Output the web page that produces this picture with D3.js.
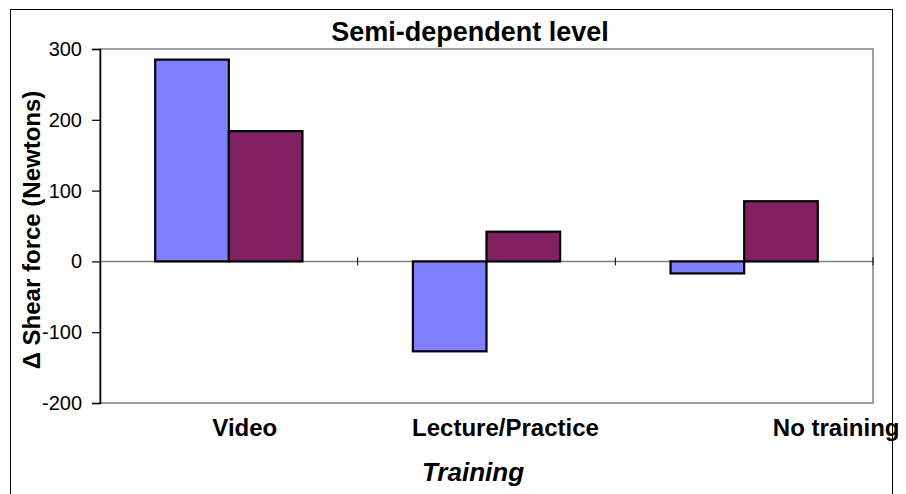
<!DOCTYPE html>
<html>
<head>
<meta charset="utf-8">
<script src="https://cdn.jsdelivr.net/npm/d3@7"></script>
<style>
  html, body { margin: 0; padding: 0; background: #fff; }
  svg { display: block; font-family: "Liberation Sans", Arial, sans-serif; }
</style>
</head>
<body>
<svg id="chart" width="906" height="494"></svg>
<script>
// Change in shear force by training type
const categories = ["Video", "Lecture/Practice", "No training"];
const series1 = [285, -127, -17];
const series2 = [184, 42, 85];
const yTicks = [-200, -100, 0, 100, 200, 300];
const chartTitle = "Semi-dependent level";
const xTitle = "Training";
const yTitle = "\u0394 Shear force (Newtons)";

const seriesNames = ["series1", "series2"];
const seriesValues = [series1, series2];
const seriesColors = ["#8080FF", "#802060"];

const svg = d3.select("#chart");
const plot = { left: 100, right: 873, top: 49, bottom: 403 };

const y = d3.scaleLinear().domain([-200, 300]).range([plot.bottom, plot.top]);
const x0 = d3.scaleBand().domain(categories).range([plot.left, plot.right]);

// bar width from a 150% gap between clusters
const barW = x0.bandwidth() / 3.5;
const gap = barW * 0.75;
const x1 = d3.scaleBand().domain(seriesNames).range([gap, gap + 2 * barW]);

const rows = categories.map((c, i) => ({
  cat: c,
  vals: seriesNames.map((s, j) => ({ s, v: seriesValues[j][i], color: seriesColors[j] }))
}));

// plot area frame
svg.append("rect")
  .attr("x", plot.left).attr("y", plot.top)
  .attr("width", plot.right - plot.left).attr("height", plot.bottom - plot.top)
  .attr("fill", "none").attr("stroke", "#808080").attr("stroke-width", 1.5);

// zero line
svg.append("line")
  .attr("x1", plot.left).attr("x2", plot.right)
  .attr("y1", y(0)).attr("y2", y(0))
  .attr("stroke", "#808080").attr("stroke-width", 1.5);

// bars
const groups = svg.append("g").selectAll("g").data(rows).join("g")
  .attr("transform", d => `translate(${x0(d.cat)},0)`);
groups.selectAll("rect").data(d => d.vals).join("rect")
  .attr("x", d => x1(d.s))
  .attr("width", x1.bandwidth())
  .attr("y", d => y(Math.max(0, d.v)))
  .attr("height", d => Math.abs(y(d.v) - y(0)))
  .attr("fill", d => d.color)
  .attr("stroke", "#000").attr("stroke-width", 2.2);

// category boundary ticks crossing the zero line
const bounds = categories.slice(1).map(c => x0(c)).concat([plot.right]);
svg.append("g").selectAll("line").data(bounds).join("line")
  .attr("x1", d => d).attr("x2", d => d)
  .attr("y1", y(0) - 4).attr("y2", y(0) + 4)
  .attr("stroke", "#000").attr("stroke-width", 1);

// y axis (plain hyphen for negatives)
const yAxis = d3.axisLeft(y).tickValues(yTicks).tickSize(8).tickPadding(10)
  .tickFormat(d => String(d));
const gy = svg.append("g").attr("transform", `translate(${plot.left},0)`).call(yAxis);
gy.select(".domain").attr("stroke", "#000").attr("stroke-width", 1.5);
gy.selectAll(".tick line").attr("stroke", "#000").attr("stroke-width", 1.2);
gy.selectAll(".tick text")
  .attr("font-size", 20).attr("fill", "#000")
  .attr("font-family", "'Liberation Sans', Arial, sans-serif");

// category labels
const labelShift = [16, 19, 92];
svg.append("g").selectAll("text").data(categories).join("text")
  .attr("x", (d, i) => x0(d) + x0.bandwidth() / 2 + labelShift[i])
  .attr("y", 436)
  .attr("text-anchor", "middle")
  .attr("font-size", 24).attr("font-weight", "bold")
  .text(d => d);

// titles
svg.append("text")
  .attr("x", 470).attr("y", 41)
  .attr("text-anchor", "middle")
  .attr("font-size", 27).attr("font-weight", "bold")
  .text(chartTitle);

svg.append("text")
  .attr("x", 473).attr("y", 481)
  .attr("text-anchor", "middle")
  .attr("font-size", 26).attr("font-weight", "bold").attr("font-style", "italic")
  .text(xTitle);

svg.append("text")
  .attr("transform", "translate(40,230) rotate(-90)")
  .attr("text-anchor", "middle")
  .attr("font-size", 24).attr("font-weight", "bold")
  .text(yTitle);

// outer chart border
svg.append("rect")
  .attr("x", 10.5).attr("y", 9.5).attr("width", 882).attr("height", 500)
  .attr("fill", "none").attr("stroke", "#000").attr("stroke-width", 1);
</script>
</body>
</html>
